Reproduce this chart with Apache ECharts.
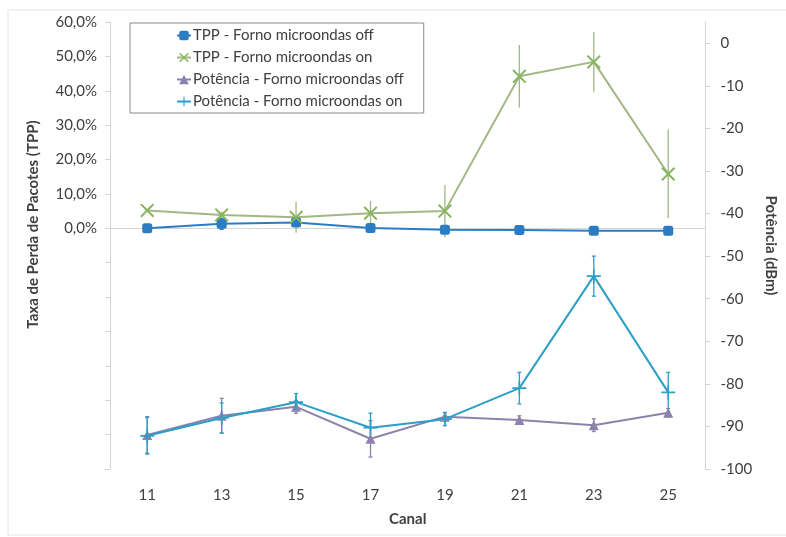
<!DOCTYPE html>
<html>
<head>
<meta charset="utf-8">
<script src="https://cdn.jsdelivr.net/npm/echarts@6/dist/echarts.min.js"></script>
<style>
html,body{margin:0;padding:0;background:#fff;}
#chart{width:786px;height:537px;}
</style>
</head>
<body>
<div id="chart"></div>
<script>
// ---- Data ----
const canais = ['11', '13', '15', '17', '19', '21', '23', '25'];

const tppOff    = [0.0, 1.3, 1.7, 0.1, -0.4, -0.5, -0.7, -0.7];   // %
const tppOffErr = [0.3, 1.6, 0.8, 0.3, 0.4, 0.3, 0.3, 0.3];
const tppOn     = [5.2, 3.9, 3.2, 4.4, 5.0, 44.2, 48.4, 15.8];     // %
const tppOnErr  = [0.5, 1.0, 4.5, 3.6, 7.6, 9.1, 8.7, 12.9];

const potOff    = [-92.0, -87.5, -85.4, -92.9, -87.7, -88.5, -89.7, -86.8]; // dBm
const potOffErr = [4.3, 4.1, 1.5, 4.3, 1.0, 1.0, 1.5, 1.0];
const potOn     = [-92.2, -88.0, -84.3, -90.3, -88.3, -81.0, -54.7, -82.0]; // dBm
const potOnErr  = [4.3, 3.5, 2.0, 3.4, 1.5, 3.7, 4.7, 4.7];

const leftTicks  = [0, 10, 20, 30, 40, 50, 60];
const rightTicks = [-100, -90, -80, -70, -60, -50, -40, -30, -20, -10, 0];

const names = [
  'TPP - Forno microondas off',
  'TPP - Forno microondas on',
  'Potência - Forno microondas off',
  'Potência - Forno microondas on'
];

// ---- Styling ----
const FONT = 'Lato';
const TXT = '#404040';
const AXIS = '#d4d4d4';
const C_TPP_OFF = '#2a7dc2';
const C_TPP_ON_LINE = '#a3b784';
const C_TPP_ON = '#86b55c';
const C_POT_OFF = '#8c82ac';
const C_POT_ON = '#2b9fc6';

const X_SYMBOL = 'path://M1,0 L5,4 L9,0 L10,1 L6,5 L10,9 L9,10 L5,6 L1,10 L0,9 L4,5 L0,1 Z';
const PLUS_SYMBOL = 'path://M4.4,0 H5.6 V4.4 H10 V5.6 H5.6 V10 H4.4 V5.6 H0 V4.4 H4.4 Z';

function errData(vals, errs) {
  return vals.map((v, i) => [i, v - errs[i], v + errs[i]]);
}
function errRender(color, cap) {
  return function (params, api) {
    const x = api.value(0);
    const lo = api.coord([x, api.value(1)]);
    const hi = api.coord([x, api.value(2)]);
    const st = { stroke: color, lineWidth: 1.3 };
    const children = [
      { type: 'line', shape: { x1: lo[0], y1: lo[1], x2: hi[0], y2: hi[1] }, style: st }
    ];
    if (cap > 0) {
      children.push(
        { type: 'line', shape: { x1: lo[0] - cap, y1: lo[1], x2: lo[0] + cap, y2: lo[1] }, style: st },
        { type: 'line', shape: { x1: hi[0] - cap, y1: hi[1], x2: hi[0] + cap, y2: hi[1] }, style: st }
      );
    }
    return { type: 'group', children: children };
  };
}
function errSeries(vals, errs, color, yIdx, cap) {
  return {
    type: 'custom',
    yAxisIndex: yIdx,
    renderItem: errRender(color, cap),
    encode: { x: 0, y: [1, 2] },
    data: errData(vals, errs),
    silent: true,
    z: 1
  };
}

const chart = echarts.init(document.getElementById('chart'), null, { renderer: 'canvas' });

chart.setOption({
  animation: false,
  backgroundColor: '#ffffff',
  textStyle: { fontFamily: FONT, color: TXT },
  graphic: [
    {
      type: 'rect', silent: true, z: -10,
      shape: { x: 8, y: 10, width: 800, height: 525 },
      style: { fill: 'none', stroke: '#e4e4e4', lineWidth: 1 }
    }
  ],
  grid: { left: 110, right: 78, top: 22, bottom: 68 },
  legend: {
    data: names,
    orient: 'vertical',
    left: 130,
    top: 23,
    padding: [5, 20, 4, 46],
    itemWidth: 14,
    itemHeight: 12,
    itemGap: 7,
    borderColor: '#8a8a8a',
    borderWidth: 1,
    textStyle: { fontFamily: FONT, fontSize: 15, color: TXT, lineHeight: 14, padding: [0, 0, 0, -3] }
  },
  xAxis: {
    type: 'category',
    data: canais,
    boundaryGap: true,
    name: 'Canal',
    nameLocation: 'middle',
    nameGap: 43,
    nameTextStyle: { fontFamily: FONT, fontSize: 15, fontWeight: 'bold', color: TXT },
    axisLine: { show: false },
    axisTick: { show: false },
    axisLabel: { fontFamily: FONT, fontSize: 15, color: TXT, margin: 19 },
    splitLine: { show: false }
  },
  yAxis: [
    {
      type: 'value',
      position: 'left',
      min: -70,
      max: 60,
      interval: 10,
      name: 'Taxa de Perda de Pacotes (TPP)',
      nameLocation: 'middle',
      nameRotate: 90,
      nameGap: 69,
      nameTextStyle: { fontFamily: FONT, fontSize: 15, fontWeight: 'bold', color: TXT, padding: [0, 0, 0, 42] },
      axisLine: { show: true, lineStyle: { color: AXIS, width: 1 } },
      axisTick: { show: true, length: 5, lineStyle: { color: AXIS } },
      axisLabel: {
        customValues: leftTicks,
        fontFamily: FONT, fontSize: 15, color: TXT, margin: 13,
        formatter: v => v.toFixed(1).replace('.', ',') + '%'
      },
      splitLine: { show: false }
    },
    {
      type: 'value',
      position: 'right',
      min: -100,
      max: 5,
      interval: 10,
      name: 'Potência (dBm)',
      nameLocation: 'middle',
      nameRotate: -90,
      nameGap: 44,
      nameTextStyle: { fontFamily: FONT, fontSize: 15, fontWeight: 'bold', color: TXT },
      axisLine: { show: true, lineStyle: { color: AXIS, width: 1 } },
      axisTick: { show: true, length: 5, customValues: rightTicks, lineStyle: { color: AXIS } },
      axisLabel: {
        customValues: rightTicks,
        fontFamily: FONT, fontSize: 15, color: TXT, margin: 15,
        formatter: v => String(v)
      },
      splitLine: { show: false }
    }
  ],
  series: [
    errSeries(tppOff, tppOffErr, C_TPP_OFF, 0, 2),
    errSeries(tppOn, tppOnErr, C_TPP_ON_LINE, 0, 0),
    errSeries(potOff, potOffErr, C_POT_OFF, 1, 2),
    errSeries(potOn, potOnErr, C_POT_ON, 1, 2),
    {
      name: names[0], type: 'line', yAxisIndex: 0, data: tppOff,
      symbol: 'roundRect', symbolSize: 10,
      lineStyle: { color: C_TPP_OFF, width: 2 },
      itemStyle: { color: C_TPP_OFF },
      z: 3,
      markLine: {
        silent: true, symbol: 'none', label: { show: false },
        lineStyle: { color: '#d6d6d6', type: 'solid', width: 1 },
        data: [{ yAxis: 0 }], z: 0
      }
    },
    {
      name: names[1], type: 'line', yAxisIndex: 0, data: tppOn,
      symbol: X_SYMBOL, symbolSize: 14,
      lineStyle: { color: C_TPP_ON_LINE, width: 2 },
      itemStyle: { color: C_TPP_ON },
      z: 3
    },
    {
      name: names[2], type: 'line', yAxisIndex: 1, data: potOff,
      symbol: 'triangle', symbolSize: 10,
      lineStyle: { color: C_POT_OFF, width: 2 },
      itemStyle: { color: C_POT_OFF },
      z: 3
    },
    {
      name: names[3], type: 'line', yAxisIndex: 1, data: potOn,
      symbol: PLUS_SYMBOL, symbolSize: 14,
      lineStyle: { color: C_POT_ON, width: 2 },
      itemStyle: { color: C_POT_ON },
      z: 3
    }
  ]
});
</script>
</body>
</html>
